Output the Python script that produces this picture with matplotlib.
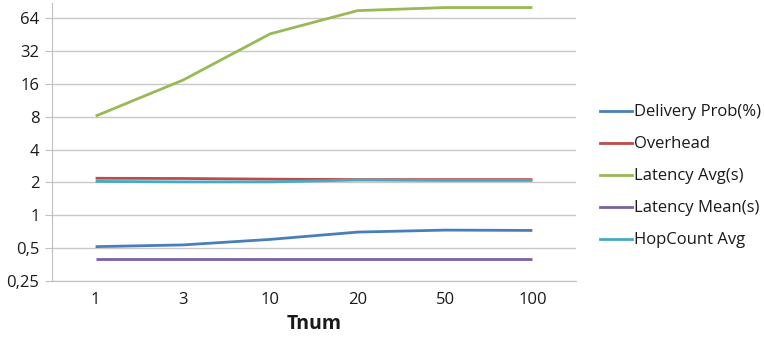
import matplotlib
matplotlib.use("Agg")
import matplotlib.pyplot as plt
from matplotlib.lines import Line2D

# Simulation results per Tnum setting
tnum = ["1", "3", "10", "20", "50", "100"]
delivery_prob = [0.515, 0.534, 0.60, 0.70, 0.73, 0.725]
overhead = [2.18, 2.17, 2.14, 2.12, 2.12, 2.12]
latency_avg = [8.1, 17.3, 46.0, 75.0, 80.0, 80.0]
latency_mean = [0.40, 0.40, 0.40, 0.40, 0.40, 0.40]
hopcount_avg = [2.04, 2.02, 2.02, 2.10, 2.08, 2.08]

series_names = ["Delivery Prob(%)", "Overhead", "Latency Avg(s)",
                "Latency Mean(s)", "HopCount Avg"]
y_ticks = [0.25, 0.5, 1, 2, 4, 8, 16, 32, 64]
y_tick_labels = ["0,25", "0,5", "1", "2", "4", "8", "16", "32", "64"]

colors = ["#4a7ebb", "#be4b48", "#98b954", "#7d60a0", "#46aac5"]
series = [delivery_prob, overhead, latency_avg, latency_mean, hopcount_avg]

plt.rcParams["font.family"] = ["Open Sans", "DejaVu Sans"]

fig = plt.figure(figsize=(7.64, 3.38), dpi=100)
ax = fig.add_axes([0.068, 0.169, 0.686, 0.822])

x = list(range(len(tnum)))
# draw order keeps the cyan line over the red one
draw_order = [3, 0, 1, 4, 2]
for i in draw_order:
    ax.plot(x, series[i], color=colors[i], lw=2.0, solid_capstyle="butt", zorder=3)

ax.set_yscale("log", base=2)
ax.set_ylim(0.25, 88)
ax.set_xlim(-0.5, len(tnum) - 0.5)
ax.set_yticks(y_ticks)
ax.set_yticklabels(y_tick_labels)
ax.minorticks_off()
ax.set_xticks(x)
ax.set_xticklabels(tnum)

ax.yaxis.grid(True, color="#c8c8c8", lw=1.0)
ax.set_axisbelow(True)
for s in ["top", "right"]:
    ax.spines[s].set_visible(False)
ax.spines["left"].set_color("#bfbfbf")
ax.spines["bottom"].set_color("#bfbfbf")
ax.tick_params(axis="y", length=5, color="#bfbfbf", labelsize=12, pad=4,
               labelcolor="#1a1a1a")
ax.tick_params(axis="x", length=0, labelsize=12, pad=8, labelcolor="#1a1a1a")

ax.set_xlabel("Tnum", fontsize=14, fontweight="bold", labelpad=4, color="#1a1a1a")

handles = [Line2D([0], [0], color=c, lw=2.0) for c in colors]
fig.legend(handles, series_names, loc="center left",
           bbox_to_anchor=(0.766, 0.478), frameon=False, fontsize=12,
           handlelength=1.92, handletextpad=0.12, labelspacing=0.96,
           labelcolor="#1a1a1a")

fig.savefig("out.png", dpi=100)
